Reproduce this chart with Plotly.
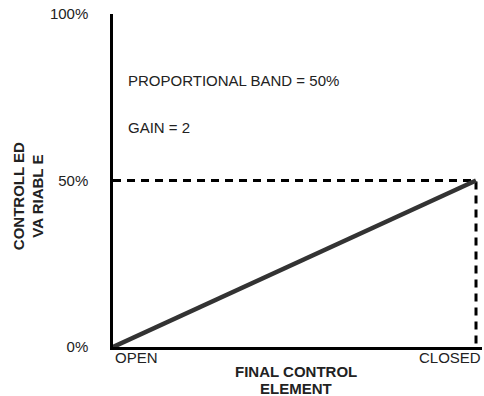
import plotly.graph_objects as go

# Data
positions = [0, 1]                      # final control element: OPEN -> CLOSED
position_labels = ["OPEN", "CLOSED"]
controlled = [0, 50]                    # controlled variable (%)
band_x = [0, 1, 1]
band_y = [50, 50, 0]
y_ticks = [0, 50, 100]
y_ticklabels = ["0%", "50%", "100%"]
notes = ["PROPORTIONAL BAND = 50%", "GAIN = 2"]

FONT = "Liberation Sans, Arial, sans-serif"
FS = 15
TXT = "#222"

fig = go.Figure()
fig.add_trace(go.Scatter(x=band_x, y=band_y, mode="lines",
                         line=dict(color="black", width=3, dash="8px,6px"),
                         hoverinfo="skip", showlegend=False))
fig.add_trace(go.Scatter(x=positions, y=controlled, mode="lines",
                         line=dict(color="#333333", width=4.5),
                         showlegend=False))

# endpoint labels
fig.add_annotation(x=0, y=-0.033, xref="paper", yref="paper", text=position_labels[0],
                   showarrow=False, xanchor="left", yanchor="middle",
                   font=dict(size=FS, color=TXT, family=FONT))
fig.add_annotation(x=1, y=-0.033, xref="paper", yref="paper", text=position_labels[1],
                   showarrow=False, xanchor="right", yanchor="middle", xshift=1,
                   font=dict(size=FS, color=TXT, family=FONT))

# notes
fig.add_annotation(x=0.035, y=0.799, xref="paper", yref="paper", text=notes[0],
                   showarrow=False, xanchor="left", yanchor="middle",
                   font=dict(size=FS, color=TXT, family=FONT))
fig.add_annotation(x=0.035, y=0.658, xref="paper", yref="paper", text=notes[1],
                   showarrow=False, xanchor="left", yanchor="middle",
                   font=dict(size=FS, color=TXT, family=FONT))

# axis titles
fig.add_annotation(x=-0.2304, y=0.453, xref="paper", yref="paper",
                   text="<b>CONTROLL ED<br>VA RIABL E</b>", textangle=-90,
                   showarrow=False, xanchor="center", yanchor="middle",
                   font=dict(size=FS, color=TXT, family=FONT))
fig.add_annotation(x=0.497, y=-0.075, xref="paper", yref="paper",
                   text="<b>FINAL CONTROL</b>",
                   showarrow=False, xanchor="center", yanchor="middle",
                   font=dict(size=FS, color=TXT, family=FONT))
fig.add_annotation(x=0.497, y=-0.126, xref="paper", yref="paper",
                   text="<b>ELEMENT</b>",
                   showarrow=False, xanchor="center", yanchor="middle",
                   font=dict(size=FS, color=TXT, family=FONT))

fig.update_layout(
    width=484, height=396,
    margin=dict(l=113, r=2, t=14, b=49),
    paper_bgcolor="white", plot_bgcolor="white",
    font=dict(family=FONT, size=FS, color=TXT),
    xaxis=dict(range=[0, 1.0165], showgrid=False, zeroline=False,
               showline=True, linecolor="black", linewidth=2.5,
               showticklabels=False, ticks=""),
    yaxis=dict(range=[0, 100], showgrid=False, zeroline=False,
               showline=True, linecolor="black", linewidth=2.5,
               tickvals=y_ticks, ticktext=y_ticklabels, ticks="",
               ticklabelstandoff=19, tickfont=dict(size=FS, color=TXT)),
)

fig.write_html("out.html", config={"displayModeBar": False},
               post_script="document.body.style.margin='0';document.body.style.overflow='hidden';")
